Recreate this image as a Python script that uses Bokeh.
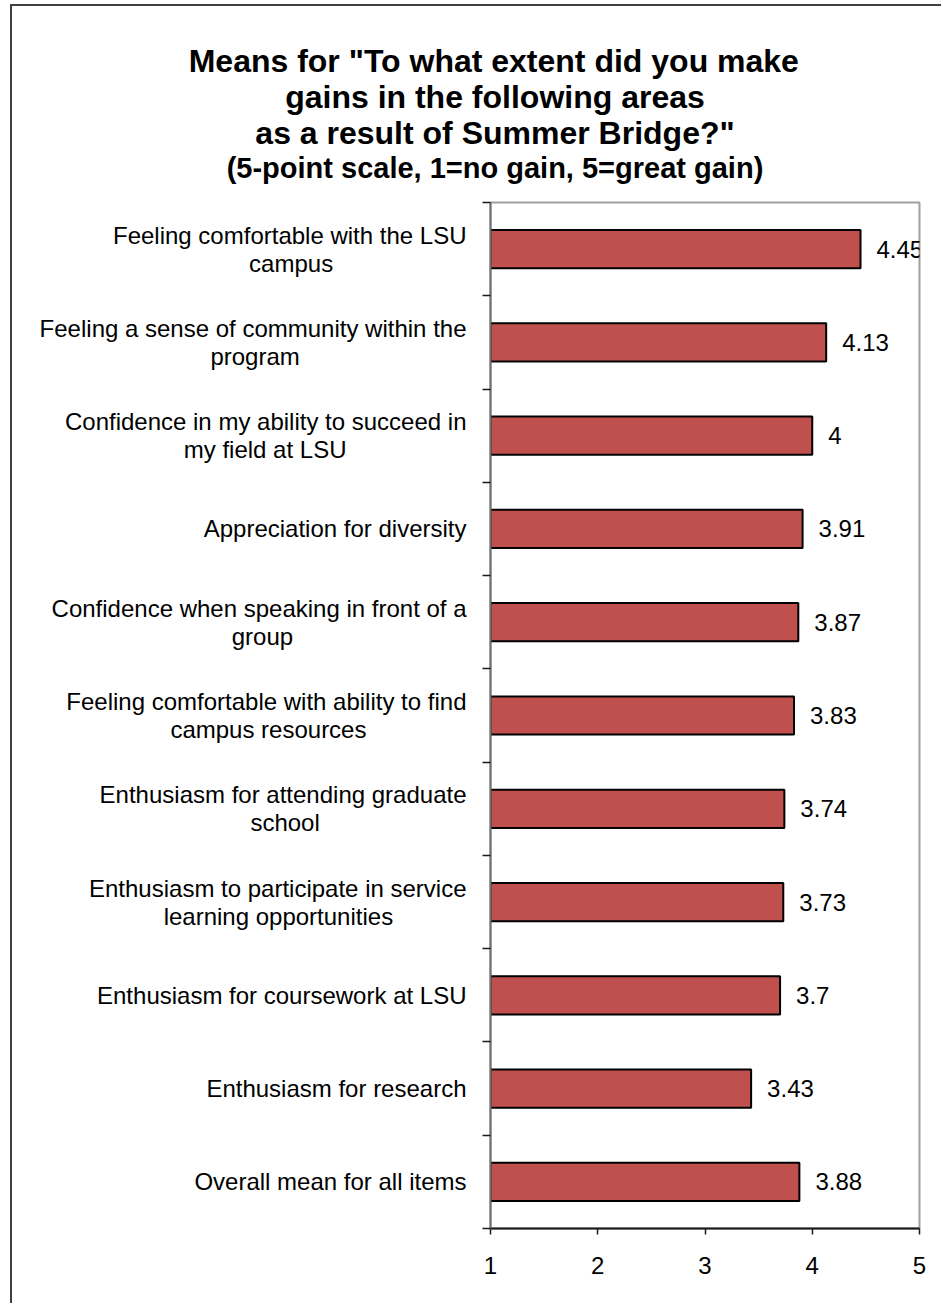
from bokeh.plotting import figure
from bokeh.models import (Range1d, LinearAxis, FixedTicker, Title,
                          LabelSet, ColumnDataSource)
from bokeh.core.properties import value
from bokeh.embed import file_html
from bokeh.resources import INLINE

title_lines = ['Means for "To what extent did you make',
               'gains in the following areas',
               'as a result of Summer Bridge?"']
subtitle = "(5-point scale, 1=no gain, 5=great gain)"

categories = [
    "Feeling comfortable with the LSU\ncampus",
    "Feeling a sense of community within the\nprogram",
    "Confidence in my ability to succeed in\nmy field at LSU",
    "Appreciation for diversity",
    "Confidence when speaking in front of a\ngroup",
    "Feeling comfortable with ability to find\ncampus resources",
    "Enthusiasm for attending graduate\nschool",
    "Enthusiasm to participate in service\nlearning opportunities",
    "Enthusiasm for coursework at LSU",
    "Enthusiasm for research",
    "Overall mean for all items",
]
means = [4.45, 4.13, 4, 3.91, 3.87, 3.83, 3.74, 3.73, 3.7, 3.43, 3.88]
x_ticks = [1, 2, 3, 4, 5]

FONT = "Liberation Sans"
BAR = "#C0504D"
LABEL_PX = 24
TITLE_PX = 32
SUB_PX = 29
TITLE_CX = 4.5   # title centre, px right of the frame's left edge

# Arial / Liberation Sans advance widths (1/1000 em), used to centre text lines
REG = dict(zip("abcdefghijklmnopqrstuvwxyz ",
               [556, 556, 500, 556, 556, 278, 556, 556, 222, 222, 500, 222, 833,
                556, 556, 556, 556, 333, 500, 278, 556, 500, 722, 500, 500, 500, 278]))
REG.update({"A": 667, "C": 722, "E": 667, "F": 611, "L": 556, "O": 778, "S": 667, "U": 722})
BOLD = dict(zip("abcdefghijklmnopqrstuvwxyz ",
                [556, 611, 556, 611, 556, 333, 611, 611, 278, 278, 556, 278, 889,
                 611, 611, 611, 611, 389, 556, 333, 611, 556, 778, 556, 556, 500, 278]))
BOLD.update({"M": 833, "T": 611, "S": 667, "B": 722, '"': 474, "?": 611, "(": 333,
             ")": 333, "-": 333, ",": 278, "=": 584, "1": 556, "5": 556})


def text_w(s, table, px):
    return sum(table.get(ch, 556) for ch in s) * px / 1000.0


def centred_lines(label):
    """Right-aligned axis label whose lines look centred on each other."""
    lines = label.split("\n")
    widths = [text_w(l, REG, LABEL_PX) for l in lines]
    wmax = max(widths)
    nb = REG[" "] * LABEL_PX / 1000.0
    return "\n".join(l + "\u00a0" * int(round((wmax - w) / 2 / nb))
                     for l, w in zip(lines, widths))


N = len(categories)
ypos = [N - i - 0.5 for i in range(N)]   # band centres, first category on top

src = ColumnDataSource(dict(cat=categories, y=ypos, mean=means,
                            mtext=[f"{m:g}" for m in means]))

p = figure(width=931, height=1299, output_backend="svg", toolbar_location=None,
           title=None,
           x_range=Range1d(x_ticks[0], x_ticks[-1]),
           y_range=Range1d(0, N),
           y_axis_location=None,
           min_border_left=478, min_border_right=24,
           min_border_top=196, min_border_bottom=77)
p.styles = {"margin-left": "10px", "margin-top": "4px",
            "border-left": "2px solid #404040", "border-top": "2px solid #404040"}
p.grid.visible = False
p.background_fill_color = "white"
p.border_fill_color = "white"
p.outline_line_color = "#a0a0a0"
p.outline_line_width = 2

# x axis
xa = p.xaxis[0]
xa.ticker = FixedTicker(ticks=x_ticks)
xa.minor_tick_line_color = None
xa.major_tick_in = 0
xa.major_tick_out = 6
xa.axis_line_color = "#1a1a1a"
xa.axis_line_width = 2
xa.major_tick_line_color = "#1a1a1a"
xa.major_tick_line_width = 1.5
xa.major_label_text_font = FONT
xa.major_label_text_font_size = f"{LABEL_PX}px"
xa.major_label_text_color = "black"
xa.major_label_standoff = 22

# y axis: labels at band centres, small ticks between categories
ya = LinearAxis(ticker=FixedTicker(ticks=ypos, minor_ticks=list(range(N + 1))),
                major_label_overrides={y: centred_lines(c) for y, c in zip(ypos, categories)},
                major_tick_in=0, major_tick_out=0, major_tick_line_color=None,
                minor_tick_in=0, minor_tick_out=8,
                minor_tick_line_color="#1a1a1a", minor_tick_line_width=1.5,
                axis_line_color="#707070", axis_line_width=2,
                major_label_standoff=16,
                major_label_text_font=FONT, major_label_text_font_size=f"{LABEL_PX}px",
                major_label_text_color="black", major_label_text_line_height=1.04)
p.add_layout(ya, "left")

# bars
p.hbar(y="y", left=x_ticks[0], right="mean", height=0.41, source=src,
       fill_color=BAR, line_color="black", line_width=2)

# value labels
p.add_layout(LabelSet(x="mean", y="y", text="mtext", source=src, x_offset=16,
                      text_baseline="middle", text_align="left",
                      text_font=value(FONT), text_font_size=f"{LABEL_PX}px",
                      text_color="black"))

# gap between the frame and the subtitle
p.add_layout(Title(text="\u00a0", text_font_size="1px", standoff=16), "above")
# titles, one per line, subtitle nearest the frame
p.add_layout(Title(text=subtitle, align="left",
                   offset=TITLE_CX - text_w(subtitle, BOLD, SUB_PX) / 2,
                   standoff=0, text_font=FONT, text_font_style="bold",
                   text_font_size=f"{SUB_PX}px", text_color="black"), "above")
for line in reversed(title_lines):
    p.add_layout(Title(text=line, align="left",
                       offset=TITLE_CX - text_w(line, BOLD, TITLE_PX) / 2,
                       standoff=-2, text_font=FONT, text_font_style="bold",
                       text_font_size=f"{TITLE_PX}px", text_color="black"), "above")

open("out.html", "w").write(file_html(p, INLINE))
